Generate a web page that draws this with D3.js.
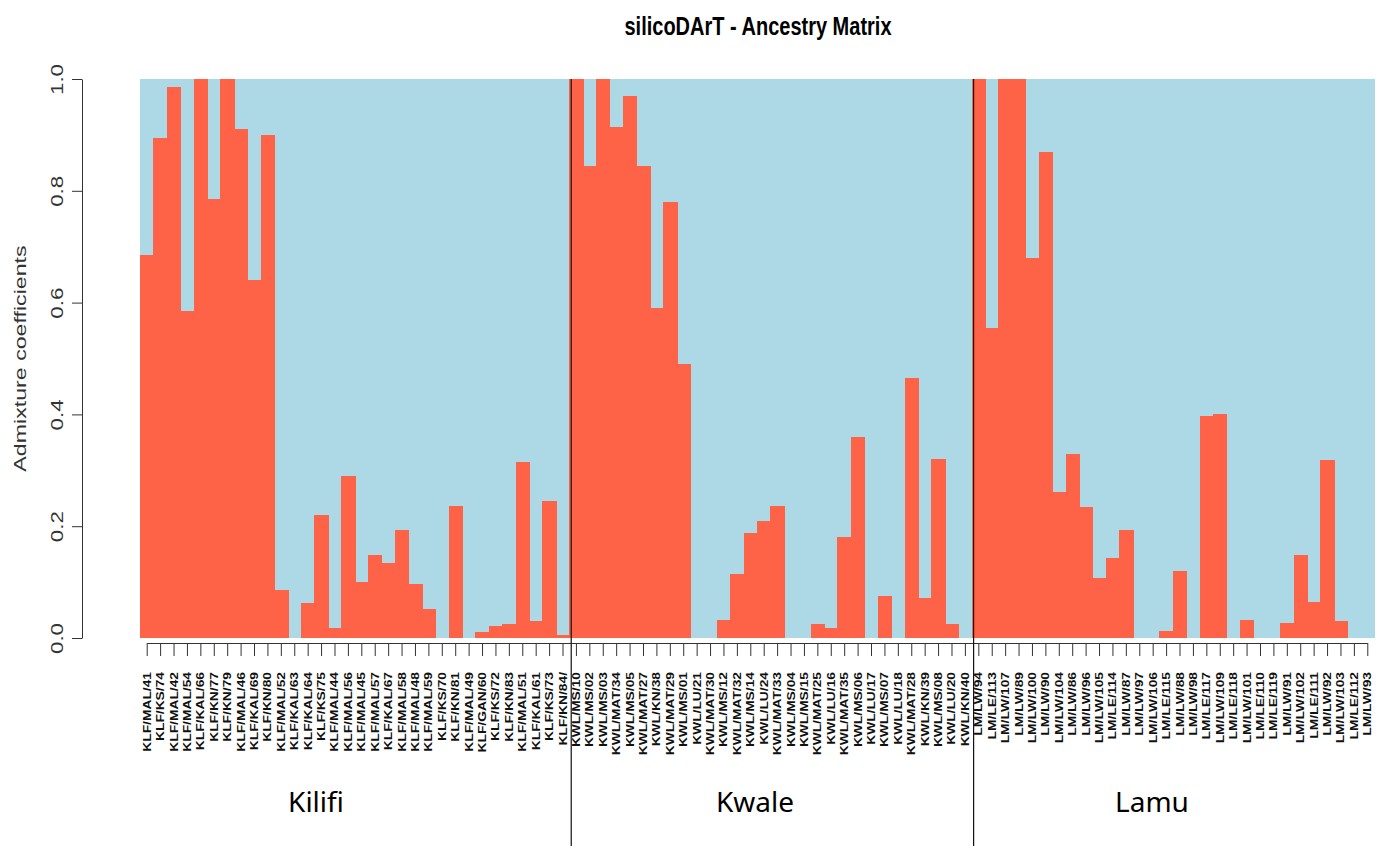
<!DOCTYPE html>
<html>
  <head>
    <meta charset="utf-8">
    <script src="https://d3js.org/d3.v7.min.js"></script>
    <style>
      body { margin: 0; background: white; }
      .xlab { font-family: "Liberation Sans", Arial, sans-serif; font-weight: bold; font-size: 10px; }
      .ylab { font-family: "Liberation Sans", Arial, sans-serif; font-size: 16px; fill: #333; }
      .title { font-family: "Liberation Sans", Arial, sans-serif; font-weight: bold; font-size: 20px; }
      .group { font-family: "Noto Sans", sans-serif; font-size: 28px; }
    </style>
  </head>
  <body>
    <div id="chart"></div>
<script>

// ---------- DATA -----------
var kilifiIds = ["KLF/MAL/41","KLF/KS/74","KLF/MAL/42","KLF/MAL/54","KLF/KAL/66","KLF/KN/77","KLF/KN/79","KLF/MAL/46",
  "KLF/KAL/69","KLF/KN/80","KLF/MAL/52","KLF/KAL/63","KLF/KAL/64","KLF/KS/75","KLF/MAL/44","KLF/MAL/56","KLF/MAL/45",
  "KLF/MAL/57","KLF/KAL/67","KLF/MAL/58","KLF/MAL/48","KLF/MAL/59","KLF/KS/70","KLF/KN/81","KLF/MAL/49","KLF/GAN/60",
  "KLF/KS/72","KLF/KN/83","KLF/MAL/51","KLF/KAL/61","KLF/KS/73","KLF/KN/84/"];
var kilifiQ = [0.685,0.895,0.985,0.585,1.0,0.785,1.0,0.91,0.64,0.90,0.085,0,0.062,0.22,0.018,0.29,0.10,
  0.148,0.135,0.193,0.096,0.052,0,0.237,0,0.01,0.022,0.025,0.315,0.03,0.245,0.005];

var kwaleIds = ["KWL/MS/10","KWL/MS/02","KWL/MS/03","KWL/MAT/34","KWL/MS/05","KWL/MAT/27","KWL/KN/38","KWL/MAT/29",
  "KWL/MS/01","KWL/LU/21","KWL/MAT/30","KWL/MS/12","KWL/MAT/32","KWL/MS/14","KWL/LU/24","KWL/MAT/33","KWL/MS/04",
  "KWL/MS/15","KWL/MAT/25","KWL/LU/16","KWL/MAT/35","KWL/MS/06","KWL/LU/17","KWL/MS/07","KWL/LU/18","KWL/MAT/28",
  "KWL/KN/39","KWL/MS/08","KWL/LU/20","KWL/KN/40"];
var kwaleQ = [1.0,0.845,1.0,0.915,0.97,0.845,0.59,0.78,0.49,0,0,0.033,0.115,0.187,0.21,0.237,0,
  0,0.025,0.018,0.18,0.36,0,0.075,0,0.465,0.072,0.32,0.025,0];

var lamuIds = ["LM/LW/94","LM/LE/113","LM/LW/107","LM/LW/89","LM/LW/100","LM/LW/90","LM/LW/104","LM/LW/86",
  "LM/LW/96","LM/LW/105","LM/LE/114","LM/LW/87","LM/LW/97","LM/LW/106","LM/LE/115","LM/LW/88","LM/LW/98",
  "LM/LE/117","LM/LW/109","LM/LE/118","LM/LW/101","LM/LE/110","LM/LE/119","LM/LW/91","LM/LW/102","LM/LE/111",
  "LM/LW/92","LM/LW/103","LM/LE/112","LM/LW/93"];
var lamuQ = [1.0,0.555,1.0,1.0,0.68,0.87,0.262,0.33,0.235,0.107,0.143,0.193,0,0,0.012,0.12,0,
  0.397,0.40,0,0.033,0,0,0.027,0.148,0.065,0.318,0.03,0,0];

var groupNames = ["Kilifi", "Kwale", "Lamu"];
var yTicks = [0, 0.2, 0.4, 0.6, 0.8, 1.0];

// ---------- SETUP -----------
var width = 1387, height = 846;
var plot = {left: 140, right: 1374, top: 79, bottom: 638};

var ids = kilifiIds.concat(kwaleIds, lamuIds);
var qs = kilifiQ.concat(kwaleQ, lamuQ);
var samples = ids.map(function(id, i) { return {id: id, q: qs[i]}; });
var groupStarts = [kilifiIds[0], kwaleIds[0], lamuIds[0]];

var x = d3.scaleBand().domain(ids).range([plot.left, plot.right]).padding(0);
var y = d3.scaleLinear().domain([0, 1]).range([plot.bottom, plot.top]);

var svg = d3.select('#chart').append('svg')
  .attr('width', width)
  .attr('height', height)
  .style('background', 'white');

// ---------- BARS -----------
// second ancestry component (top, light blue), stacked on the first (bottom, tomato)
var bars = svg.append('g').attr('shape-rendering', 'crispEdges');
bars.selectAll('.blue')
  .data(samples)
  .enter().append('rect')
  .attr('x', function(d) { return x(d.id); })
  .attr('width', x.bandwidth() + 1)
  .attr('y', y(1))
  .attr('height', function(d) { return y(d.q) - y(1); })
  .attr('fill', '#add8e6');

bars.selectAll('.red')
  .data(samples)
  .enter().append('rect')
  .attr('x', function(d) { return x(d.id); })
  .attr('width', x.bandwidth() + 1)
  .attr('y', function(d) { return y(d.q); })
  .attr('height', function(d) { return y(0) - y(d.q); })
  .attr('fill', '#ff6347');

// ---------- AXES -----------
var xp = d3.scalePoint().domain(ids)
  .range([x(ids[0]) + x.bandwidth() / 2, x(ids[ids.length - 1]) + x.bandwidth() / 2]);

var xAxis = svg.append('g')
  .attr('transform', 'translate(0,643)')
  .call(d3.axisBottom(xp).tickSize(13).tickSizeOuter(0));
xAxis.selectAll('path, line').attr('stroke', '#333');
xAxis.selectAll('text')
  .attr('class', 'xlab')
  .attr('fill', '#111')
  .attr('x', 0).attr('y', 0).attr('dy', '0.35em')
  .attr('text-anchor', 'end')
  .attr('transform', 'translate(0,29) rotate(-90) scale(1.38,1)');

var yAxis = svg.append('g')
  .attr('transform', 'translate(82,0)')
  .call(d3.axisLeft(y).tickValues(yTicks).tickFormat(d3.format('.1f')).tickSize(10).tickSizeOuter(0));
yAxis.selectAll('path, line').attr('stroke', '#333');
yAxis.selectAll('text')
  .attr('class', 'ylab')
  .attr('x', 0).attr('y', 0).attr('dy', '0.35em')
  .attr('text-anchor', 'middle')
  .attr('transform', 'translate(-25,0) rotate(-90) scale(1.4,1)');

svg.append('text')
  .attr('class', 'ylab')
  .attr('text-anchor', 'middle')
  .attr('dy', '0.35em')
  .attr('transform', 'translate(20,' + (plot.top + plot.bottom) / 2 + ') rotate(-90) scale(1.45,1)')
  .text('Admixture coefficients');

// ---------- DIVIDERS & GROUPS -----------
svg.selectAll('.divider')
  .data(groupStarts.slice(1))
  .enter().append('line')
  .attr('x1', function(d) { return x(d) + 2; })
  .attr('x2', function(d) { return x(d) + 2; })
  .attr('y1', plot.top)
  .attr('y2', height)
  .attr('stroke', '#111')
  .attr('stroke-width', 1.2);

var groupX = [316, 755, 1152];
svg.selectAll('.group')
  .data(groupNames)
  .enter().append('text')
  .attr('class', 'group')
  .attr('x', function(d, i) { return groupX[i]; })
  .attr('y', 812)
  .attr('text-anchor', 'middle')
  .text(function(d) { return d; });

// ---------- TITLE -----------
svg.append('text')
  .attr('class', 'title')
  .attr('text-anchor', 'middle')
  .attr('transform', 'translate(758,35) scale(1,1.3)')
  .text('silicoDArT - Ancestry Matrix');

</script>
  </body>
</html>
